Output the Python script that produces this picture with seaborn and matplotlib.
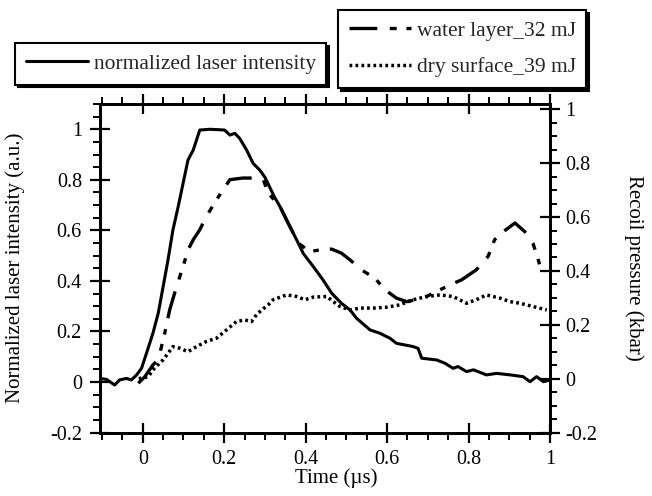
import numpy as np
import pandas as pd
import matplotlib
matplotlib.use("Agg")
import matplotlib.pyplot as plt
from matplotlib.ticker import MultipleLocator, FuncFormatter
import seaborn as sns

# ---------------- data ----------------
laser_t = [-0.105, -0.089, -0.069, -0.057, -0.04, -0.028, -0.015, -0.003, 0.009, 0.025,
           0.038, 0.05, 0.062, 0.074, 0.087, 0.099, 0.111, 0.124, 0.14, 0.165,
           0.201, 0.214, 0.226, 0.238, 0.255, 0.271, 0.287, 0.3, 0.312, 0.324,
           0.337, 0.353, 0.378, 0.394, 0.419, 0.443, 0.464, 0.488, 0.509, 0.525,
           0.558, 0.582, 0.607, 0.623, 0.664, 0.676, 0.685, 0.722, 0.742, 0.762,
           0.774, 0.795, 0.812, 0.844, 0.869, 0.902, 0.934, 0.951, 0.967, 0.984, 1.0]
laser_i = [0.014, 0.01, -0.012, 0.008, 0.014, 0.008, 0.028, 0.054, 0.113, 0.193,
           0.272, 0.377, 0.483, 0.601, 0.694, 0.786, 0.878, 0.918, 0.997, 1.0,
           0.997, 0.977, 0.984, 0.964, 0.918, 0.865, 0.839, 0.81, 0.77, 0.73,
           0.694, 0.641, 0.562, 0.509, 0.456, 0.403, 0.351, 0.311, 0.285, 0.252,
           0.206, 0.193, 0.173, 0.153, 0.14, 0.133, 0.094, 0.087, 0.074, 0.054,
           0.061, 0.041, 0.048, 0.028, 0.034, 0.028, 0.021, 0.001, 0.021, 0.001, 0.008]

water_t = [-0.011, 0.005, 0.025, 0.038, 0.054, 0.066, 0.083, 0.099, 0.111, 0.124,
           0.14, 0.156, 0.181, 0.197, 0.214, 0.246, 0.279, 0.296, 0.308, 0.337,
           0.353, 0.382, 0.41, 0.447, 0.464, 0.488, 0.509, 0.537, 0.57, 0.595,
           0.623, 0.648, 0.69, 0.73, 0.754, 0.783, 0.819, 0.848, 0.864, 0.881,
           0.914, 0.938, 0.958, 0.97, 0.979]
water_p = [-0.017, 0.007, 0.051, 0.07, 0.169, 0.255, 0.342, 0.416, 0.478, 0.516,
           0.553, 0.602, 0.664, 0.701, 0.739, 0.745, 0.745, 0.739, 0.689, 0.639,
           0.59, 0.503, 0.472, 0.481, 0.481, 0.466, 0.441, 0.404, 0.373, 0.33,
           0.299, 0.286, 0.3, 0.33, 0.348, 0.367, 0.404, 0.454, 0.516, 0.541,
           0.578, 0.546, 0.503, 0.448, 0.398]

dry_t = [-0.01, 0.013, 0.029, 0.05, 0.062, 0.074, 0.091, 0.111, 0.132, 0.156,
         0.181, 0.201, 0.23, 0.251, 0.267, 0.279, 0.292, 0.308, 0.32, 0.353,
         0.378, 0.398, 0.419, 0.452, 0.468, 0.484, 0.509, 0.533, 0.566, 0.598,
         0.631, 0.664, 0.697, 0.73, 0.762, 0.795, 0.819, 0.844, 0.877, 0.902,
         0.926, 0.958, 0.992]
dry_p = [0.0, 0.007, 0.039, 0.07, 0.094, 0.119, 0.113, 0.1, 0.119, 0.138,
         0.15, 0.175, 0.212, 0.218, 0.212, 0.237, 0.255, 0.274, 0.293, 0.311,
         0.305, 0.293, 0.303, 0.305, 0.286, 0.268, 0.255, 0.262, 0.262, 0.265,
         0.274, 0.293, 0.305, 0.311, 0.305, 0.28, 0.293, 0.311, 0.299, 0.286,
         0.28, 0.268, 0.255]

label_laser = "normalized laser intensity"
label_water = "water layer_32 mJ"
label_dry = "dry surface_39 mJ"
xlabel = "Time (\u00b5s)"
ylabel_left = "Normalized laser intensity (a.u.)"
ylabel_right = "Recoil pressure (kbar)"

# ---------------- style ----------------
sns.set_theme(style="ticks")
plt.rcParams["font.family"] = ["Liberation Serif", "DejaVu Serif"]
plt.rcParams["lines.scale_dashes"] = False
plt.rcParams["axes.linewidth"] = 2.0

fig = plt.figure(figsize=(6.52, 4.96), dpi=100)
ax = fig.add_axes([100 / 652, 1 - 432.5 / 496, 450 / 652, 328.5 / 496])
ax2 = ax.twinx()

df_laser = pd.DataFrame({"t": laser_t, "v": laser_i})
df_water = pd.DataFrame({"t": water_t, "v": water_p})
df_dry = pd.DataFrame({"t": dry_t, "v": dry_p})

sns.lineplot(data=df_laser, x="t", y="v", ax=ax, color="black", linewidth=2.2,
             estimator=None, sort=False)
l_laser = ax.lines[-1]

sns.lineplot(data=df_water, x="t", y="v", ax=ax2, color="black", linewidth=2.4,
             estimator=None, sort=False)
l_water = ax2.lines[-1]
l_water.set_dashes([20, 9, 5, 7, 4, 8])

sns.lineplot(data=df_dry, x="t", y="v", ax=ax2, color="black", linewidth=2.5,
             estimator=None, sort=False)
l_dry = ax2.lines[-1]
l_dry.set_dashes([2.0, 2.3])

ax.set_xlim(-0.105, 1.0)
ax.set_ylim(-0.2, 1.1)
ax2.set_ylim(-0.2, 1.02)

fmt = FuncFormatter(lambda v, p: f"{round(v, 2) + 0.0:g}")
for a in (ax, ax2):
    a.yaxis.set_major_locator(MultipleLocator(0.2))
    a.yaxis.set_minor_locator(MultipleLocator(0.05))
    a.yaxis.set_major_formatter(fmt)
    for s in a.spines.values():
        s.set_linewidth(2.0)
        s.set_color("black")
ax.xaxis.set_major_locator(MultipleLocator(0.2))
ax.xaxis.set_minor_locator(MultipleLocator(0.05))
ax.xaxis.set_major_formatter(fmt)

tick_kw_major = dict(which="major", direction="inout", length=15, width=1.6,
                     color="black", labelsize=14.5, labelcolor="black")
tick_kw_minor = dict(which="minor", direction="out", length=5, width=1.4, color="black")
ax.tick_params(axis="x", top=True, pad=5, **tick_kw_major)
ax.tick_params(axis="x", top=True, **tick_kw_minor)
ax.tick_params(axis="y", left=True, right=False, pad=5.5, **tick_kw_major)
ax.tick_params(axis="y", left=True, right=False, **tick_kw_minor)
ax2.tick_params(axis="y", right=True, pad=3.3, **tick_kw_major)
ax2.tick_params(axis="y", right=True, **tick_kw_minor)

ax.set_xlabel(xlabel, fontsize=15, color="black", va="center")
ax.xaxis.set_label_coords(0.524, -0.14)
ax.set_ylabel(ylabel_left, fontsize=15, color="black")
ax.yaxis.set_label_coords(-0.167, 0.5)
ax2.set_ylabel(ylabel_right, fontsize=15, color="black", rotation=270, va="center")
ax2.yaxis.set_label_coords(1.187, 0.5)

ax.grid(False)
ax2.grid(False)

leg_kw = dict(loc="upper left", frameon=True, fancybox=False, framealpha=1,
              edgecolor="black", borderaxespad=0, borderpad=0.5,
              handlelength=2.9, handletextpad=0.25, fontsize=15.5,
              shadow={"color": "black", "alpha": 1})
leg1 = fig.legend(handles=[l_laser], labels=[label_laser],
                  bbox_to_anchor=(15 / 652, 1 - 43 / 496), **leg_kw)
leg2 = fig.legend(handles=[l_water, l_dry], labels=[label_water, label_dry],
                  bbox_to_anchor=(338 / 652, 1 - 10 / 496), labelspacing=0.75, **leg_kw)
for lg in (leg1, leg2):
    lg.get_frame().set_linewidth(1.5)

fig.savefig("out.png", dpi=100)
